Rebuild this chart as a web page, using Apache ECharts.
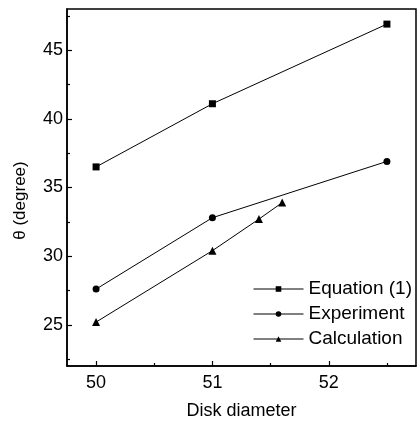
<!DOCTYPE html>
<html><head><meta charset="utf-8">
<script src="https://cdn.jsdelivr.net/npm/echarts@6/dist/echarts.min.js"></script>
<style>html,body{margin:0;padding:0;background:#fff}#c{width:420px;height:425px}</style>
</head><body><div id="c"></div>
<script>
var xMajorTicks = [50, 51, 52];
var xMinorTicks = [50.5, 51.5, 52.5];
var yMajorTicks = [25, 30, 35, 40, 45];
var yMinorTicks = [22.5, 27.5, 32.5, 37.5, 42.5, 47.5];
var equationX = [50, 51, 52.5];
var equationY = [36.5, 41.1, 46.9];
var experimentX = [50, 51, 52.5];
var experimentY = [27.6, 32.8, 36.9];
var calculationX = [50, 51, 51.4, 51.6];
var calculationY = [25.2, 30.4, 32.7, 33.9];
var seriesNames = ['Equation (1)', 'Experiment', 'Calculation'];

function pairs(xs, ys) { return xs.map(function (x, i) { return [x, ys[i]]; }); }
var FONT = 'Liberation Sans, Arial, sans-serif';
var chart = echarts.init(document.getElementById('c'), null, {renderer: 'canvas'});
function mkSeries(name, data, sym, size) {
  return {
    name: name, type: 'line', data: data, symbol: sym, symbolSize: size,
    showAllSymbol: true, animation: false,
    lineStyle: {color: '#000', width: 1}, itemStyle: {color: '#000'},
    xAxisIndex: 0, yAxisIndex: 0
  };
}
chart.setOption({
  backgroundColor: '#fff',
  animation: false,
  grid: {left: 67, right: 4, top: 9, bottom: 57, show: true, borderColor: '#000', borderWidth: 1.5, backgroundColor: 'transparent'},
  legend: {
    orient: 'vertical', left: 253, top: 279, padding: 0, itemWidth: 50, itemHeight: 7, itemGap: 5,
    textStyle: {fontFamily: FONT, fontSize: 19, color: '#000', lineHeight: 20},
    lineStyle: {width: 1, color: '#000'},
    data: seriesNames
  },
  xAxis: [{
    type: 'value', min: 49.75, max: 52.75, position: 'bottom',
    name: 'Disk diameter', nameLocation: 'middle', nameGap: 36,
    nameTextStyle: {fontFamily: FONT, fontSize: 18, color: '#000'},
    axisLine: {show: true, lineStyle: {color: '#000', width: 1.5}},
    axisTick: {show: true, inside: true, length: 5, customValues: xMajorTicks, lineStyle: {color: '#000', width: 1.2}},
    axisLabel: {customValues: xMajorTicks, margin: 8, fontFamily: FONT, fontSize: 18, color: '#000'},
    splitLine: {show: false}
  }, {
    type: 'value', min: 49.75, max: 52.75, position: 'bottom', gridIndex: 0,
    axisLine: {show: false},
    axisTick: {show: true, inside: true, length: 3, customValues: xMinorTicks, lineStyle: {color: '#000', width: 1.2}},
    axisLabel: {show: false}, splitLine: {show: false}
  }],
  yAxis: [{
    type: 'value', min: 22, max: 48, position: 'left',
    name: 'θ (degree)', nameLocation: 'middle', nameGap: 38,
    nameTextStyle: {fontFamily: FONT, fontSize: 17, color: '#000', padding: [0, 26, 0, 0]},
    axisLine: {show: true, lineStyle: {color: '#000', width: 1.5}},
    axisTick: {show: true, inside: true, length: 5, customValues: yMajorTicks, lineStyle: {color: '#000', width: 1.2}},
    axisLabel: {customValues: yMajorTicks, margin: 4, fontFamily: FONT, fontSize: 18, color: '#000'},
    splitLine: {show: false}
  }, {
    type: 'value', min: 22, max: 48, position: 'left', gridIndex: 0,
    axisLine: {show: false},
    axisTick: {show: true, inside: true, length: 3, customValues: yMinorTicks, lineStyle: {color: '#000', width: 1.2}},
    axisLabel: {show: false}, splitLine: {show: false}
  }],
  series: [
    mkSeries(seriesNames[0], pairs(equationX, equationY), 'rect', 7),
    mkSeries(seriesNames[1], pairs(experimentX, experimentY), 'circle', 7),
    mkSeries(seriesNames[2], pairs(calculationX, calculationY), 'triangle', 8)
  ]
});
</script></body></html>
